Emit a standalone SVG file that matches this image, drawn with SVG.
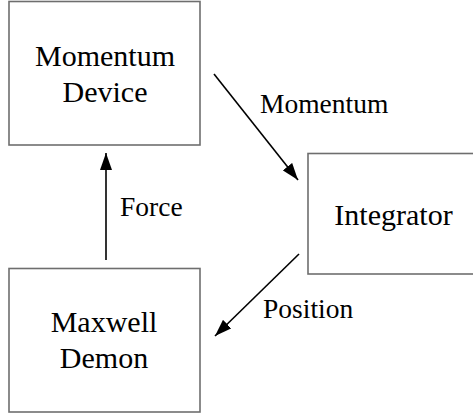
<svg xmlns="http://www.w3.org/2000/svg" width="473" height="413" viewBox="0 0 473 413">
<style>
.box{fill:#fff;stroke:#6e6e6e;stroke-width:1.6}
.t{font-family:'Liberation Serif','DejaVu Serif',serif;font-size:30px;fill:#000;text-anchor:middle}
.l{font-family:'Liberation Serif','DejaVu Serif',serif;font-size:27.5px;fill:#000}
.c{stroke:#000;stroke-width:1.6;fill:none}
</style>
<defs>
<marker id="ah" viewBox="0 0 17 12" refX="17" refY="6" markerWidth="17" markerHeight="12" markerUnits="userSpaceOnUse" orient="auto">
<path d="M0,0 L17,6 L0,12 Z" fill="#000"/>
</marker>
</defs>
<rect width="473" height="413" fill="#fff"/>
<g id="momentum-device">
<rect class="box" x="9" y="1.5" width="191" height="143.5"/>
<text class="t" x="105" y="66">Momentum</text>
<text class="t" x="105" y="102">Device</text>
</g>
<g id="integrator">
<rect class="box" x="308" y="153.5" width="170" height="120.5"/>
<text class="t" x="393.5" y="225">Integrator</text>
</g>
<g id="maxwell-demon">
<rect class="box" x="9" y="268.5" width="191" height="143.5"/>
<text class="t" x="104" y="332">Maxwell</text>
<text class="t" x="104" y="368">Demon</text>
</g>
<g id="connectors">
<line class="c" x1="106" y1="260" x2="106" y2="153" marker-end="url(#ah)"/>
<line class="c" x1="214" y1="74" x2="298" y2="180" marker-end="url(#ah)"/>
<line class="c" x1="299" y1="254" x2="215" y2="336" marker-end="url(#ah)"/>
<text class="l" x="260" y="113">Momentum</text>
<text class="l" x="120" y="216">Force</text>
<text class="l" x="263" y="318">Position</text>
</g>
</svg>
